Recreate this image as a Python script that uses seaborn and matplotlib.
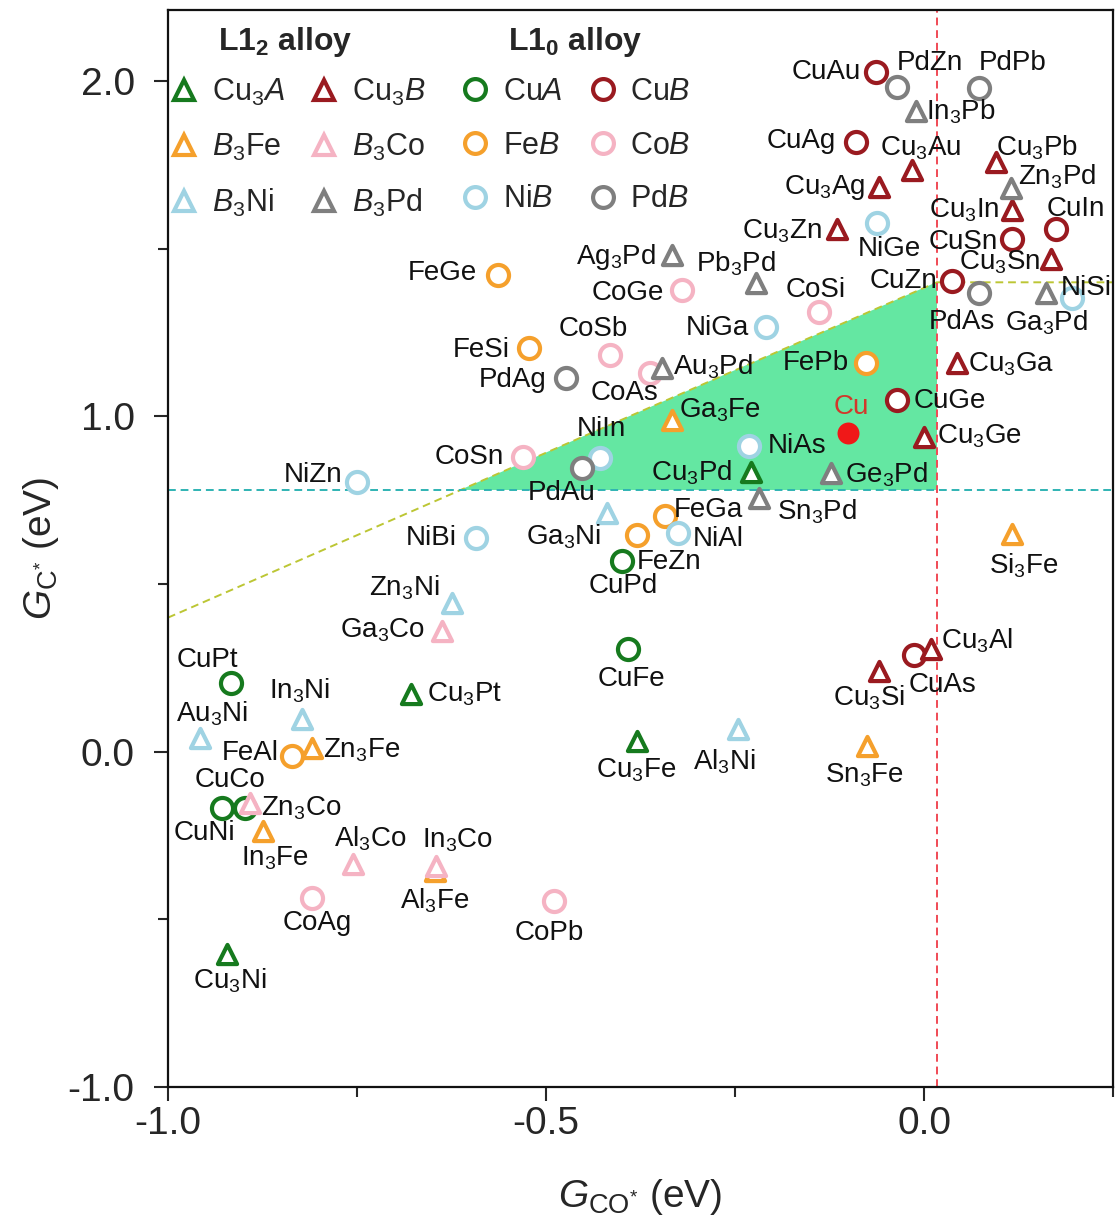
import re

import matplotlib

matplotlib.use("Agg")

import matplotlib.pyplot as plt
import numpy as np
import pandas as pd
import seaborn as sns
from matplotlib.lines import Line2D
from matplotlib.ticker import FormatStrFormatter, MultipleLocator

# ---- data ---------------------------------------------------------------
NAMES = [
    "Cu3Pd", "Cu3Pt", "Cu3Fe", "Cu3Ni",
    "Cu3Au", "Cu3Pb", "Cu3Ag", "Cu3In", "Cu3Zn", "Cu3Sn", "Cu3Ga", "Cu3Ge", "Cu3Si", "Cu3Al",
    "Ga3Fe", "Zn3Fe", "In3Fe", "Al3Fe", "Sn3Fe", "Si3Fe",
    "Ga3Co", "Zn3Co", "Al3Co", "In3Co",
    "Ga3Ni", "Zn3Ni", "In3Ni", "Au3Ni", "Al3Ni",
    "In3Pb", "Zn3Pd", "Ag3Pd", "Pb3Pd", "Ga3Pd", "Au3Pd", "Ge3Pd", "Sn3Pd",
    "CuPd", "CuPt", "CuFe", "CuCo", "CuNi",
    "CuAu", "CuAg", "CuIn", "CuSn", "CuZn", "CuGe", "CuAs",
    "FeGe", "FeSi", "FePb", "FeGa", "FeZn", "FeAl",
    "CoGe", "CoSi", "CoSb", "CoAs", "CoSn", "CoAg", "CoPb",
    "NiGe", "NiGa", "NiAs", "NiIn", "NiZn", "NiAl", "NiBi", "NiSi",
    "PdZn", "PdPb", "PdAs", "PdAg", "PdAu",
]
G_CO = [
    -0.229, -0.678, -0.379, -0.922,
    -0.016, 0.095, -0.059, 0.116, -0.115, 0.168, 0.044, 0.000, -0.059, 0.009,
    -0.334, -0.810, -0.874, -0.647, -0.075, 0.116,
    -0.637, -0.892, -0.755, -0.645,
    -0.419, -0.624, -0.823, -0.958, -0.246,
    -0.011, 0.115, -0.333, -0.222, 0.162, -0.347, -0.123, -0.218,
    -0.400, -0.917, -0.392, -0.929, -0.898,
    -0.063, -0.090, 0.174, 0.116, 0.037, -0.036, -0.013,
    -0.563, -0.522, -0.077, -0.343, -0.379, -0.836,
    -0.320, -0.139, -0.416, -0.363, -0.531, -0.810, -0.489,
    -0.062, -0.209, -0.231, -0.429, -0.750, -0.326, -0.592, 0.196,
    -0.036, 0.073, 0.073, -0.473, -0.453,
]
G_C = [
    0.833, 0.173, 0.033, -0.603,
    1.734, 1.758, 1.684, 1.615, 1.558, 1.470, 1.158, 0.940, 0.242, 0.307,
    0.988, 0.012, -0.236, -0.355, 0.018, 0.650,
    0.361, -0.152, -0.334, -0.340,
    0.713, 0.445, 0.099, 0.042, 0.069,
    1.910, 1.681, 1.481, 1.399, 1.367, 1.143, 0.830, 0.758,
    0.570, 0.206, 0.307, -0.167, -0.167,
    2.027, 1.818, 1.558, 1.528, 1.405, 1.048, 0.287,
    1.421, 1.203, 1.158, 0.704, 0.645, -0.012,
    1.376, 1.310, 1.182, 1.131, 0.878, -0.436, -0.445,
    1.576, 1.266, 0.913, 0.875, 0.803, 0.651, 0.636, 1.352,
    1.982, 1.979, 1.367, 1.116, 0.845,
]
GROUP = (
    ["Cu3A"] * 4 + ["Cu3B"] * 10 + ["B3Fe"] * 6 + ["B3Co"] * 4 + ["B3Ni"] * 5
    + ["B3Pd"] * 8 + ["CuA"] * 5 + ["CuB"] * 7 + ["FeB"] * 6 + ["CoB"] * 7
    + ["NiB"] * 8 + ["PdB"] * 5
)

CU_G_CO = -0.100
CU_G_C = 0.950

# limiting lines of the activity window
GC_LIMIT = 0.78
GCO_LIMIT = 0.017
BOUND_X = [-1.0, 0.017, 0.25]
BOUND_Y = [0.40, 1.40, 1.40]

# ---- styles --------------------------------------------------------------
GREEN = "#167a1e"
DARKRED = "#9a1a20"
ORANGE = "#f5a02c"
PINK = "#f5b3c3"
LIGHTBLUE = "#9fd3e3"
GRAY = "#7f7f7f"

COLORS = {
    "Cu3A": GREEN, "Cu3B": DARKRED, "B3Fe": ORANGE, "B3Co": PINK, "B3Ni": LIGHTBLUE, "B3Pd": GRAY,
    "CuA": GREEN, "CuB": DARKRED, "FeB": ORANGE, "CoB": PINK, "NiB": LIGHTBLUE, "PdB": GRAY,
}
L12_GROUPS = ["Cu3A", "Cu3B", "B3Fe", "B3Co", "B3Ni", "B3Pd"]
L10_GROUPS = ["CuA", "CuB", "FeB", "CoB", "NiB", "PdB"]
LEGEND_LABELS = {
    "Cu3A": r"Cu$_3\mathit{A}$", "Cu3B": r"Cu$_3\mathit{B}$",
    "B3Fe": r"$\mathit{B}_3$Fe", "B3Co": r"$\mathit{B}_3$Co",
    "B3Ni": r"$\mathit{B}_3$Ni", "B3Pd": r"$\mathit{B}_3$Pd",
    "CuA": r"Cu$\mathit{A}$", "CuB": r"Cu$\mathit{B}$",
    "FeB": r"Fe$\mathit{B}$", "CoB": r"Co$\mathit{B}$",
    "NiB": r"Ni$\mathit{B}$", "PdB": r"Pd$\mathit{B}$",
}

# label offset from its marker, in pixels (x right, y up)
LABEL_OFFSET = {
    "CuAu": (-50, 0), "PdZn": (33, 24), "PdPb": (33, 25), "In3Pb": (45, 0),
    "CuAg": (-55, 1), "Cu3Au": (9, 22), "Cu3Pb": (41, 15), "Cu3Ag": (-55, 0),
    "Zn3Pd": (46, 11), "Cu3In": (-47, 0), "CuIn": (20, 20), "Cu3Zn": (-55, -2),
    "NiGe": (12, -26), "CuSn": (-48, -3), "Cu3Sn": (-51, -3), "CuZn": (-48, 0),
    "PdAs": (-17, -29), "Ga3Pd": (0, -29), "NiSi": (14, 10), "Cu3Ga": (54, -1),
    "CuGe": (53, -1), "Cu3Ge": (55, 0), "FePb": (-50, 0), "CoSi": (-3, 22),
    "FeGe": (-56, 2), "Ag3Pd": (-56, -2), "Pb3Pd": (-20, 19), "CoGe": (-54, -3),
    "NiGa": (-49, -1), "CoSb": (-16, 26), "FeSi": (-48, -2), "PdAg": (-54, -2),
    "CoAs": (-25, -20), "Au3Pd": (51, 2), "Ga3Fe": (48, 10), "NiIn": (2, 29),
    "CoSn": (-53, 0), "NiZn": (-44, 7), "PdAu": (-20, -25), "Cu3Pd": (-59, 0),
    "FeGa": (44, 6), "Ga3Ni": (-44, -24), "NiAl": (41, -6), "FeZn": (32, -27),
    "CuPd": (2, -25), "NiBi": (-45, 0), "Zn3Ni": (-48, 15), "Ga3Co": (-60, 0),
    "CuPt": (-23, 23), "In3Ni": (-2, 28), "Cu3Pt": (53, -1), "Au3Ni": (12, 24),
    "FeAl": (-42, 3), "Zn3Fe": (50, -3), "CuCo": (8, 28), "Zn3Co": (52, -6),
    "CuNi": (-41, -25), "In3Fe": (12, -27), "Al3Co": (17, 25), "In3Co": (21, 25),
    "Al3Fe": (0, -30), "CoAg": (6, -25), "CoPb": (-5, -32), "Cu3Ni": (3, -27),
    "CuFe": (4, -30), "Cu3Fe": (-1, -30), "Al3Ni": (-14, -33), "Sn3Fe": (-3, -30),
    "Cu3Si": (-10, -27), "CuAs": (28, -30), "Cu3Al": (46, 8), "NiAs": (48, 0),
    "Ge3Pd": (55, -1), "Sn3Pd": (58, -14), "Si3Fe": (12, -32),
}

sns.set_style("ticks")
plt.rcParams["font.family"] = ["Liberation Sans", "DejaVu Sans"]
plt.rcParams["mathtext.fontset"] = "custom"
plt.rcParams["mathtext.rm"] = "Liberation Sans"
plt.rcParams["mathtext.it"] = "Liberation Sans:italic"
plt.rcParams["mathtext.bf"] = "Liberation Sans:bold"
plt.rcParams["axes.unicode_minus"] = False

df = pd.DataFrame({"name": NAMES, "g_co": G_CO, "g_c": G_C, "group": GROUP})

fig = plt.figure(figsize=(11.15, 12.24), dpi=100)
ax = fig.add_axes([0.1507, 0.1119, 0.8475, 0.8799])

# shaded window and guide lines
x_cross = np.interp(GC_LIMIT, BOUND_Y[:2], BOUND_X[:2])
ax.fill(
    [x_cross, GCO_LIMIT, GCO_LIMIT],
    [GC_LIMIT, GC_LIMIT, BOUND_Y[1]],
    color="#64e7a2",
    lw=0,
    zorder=1,
)
ax.plot(BOUND_X, BOUND_Y, color="#bcc634", lw=1.4, ls=(0, (4, 2.5)), zorder=2)
ax.axhline(GC_LIMIT, color="#2fb3b3", lw=1.4, ls=(0, (4, 2.5)), zorder=2)
ax.axvline(GCO_LIMIT, color="#f04a55", lw=1.4, ls=(0, (4, 2.5)), zorder=2)

# circles first, triangles on top
for group in L10_GROUPS + L12_GROUPS:
    sub = df[df["group"] == group]
    is_l12 = group in L12_GROUPS
    sns.scatterplot(
        data=sub,
        x="g_co",
        y="g_c",
        marker="^" if is_l12 else "o",
        s=190 if is_l12 else 230,
        color=COLORS[group],
        facecolor="white",
        edgecolor=COLORS[group],
        linewidth=3.0,
        legend=False,
        zorder=4,
        ax=ax,
    )

sns.scatterplot(
    x=[CU_G_CO], y=[CU_G_C], color="#f01818", s=250, linewidth=0, legend=False, zorder=4, ax=ax
)
ax.annotate(
    "Cu", (CU_G_CO, CU_G_C), xytext=(3, 26), textcoords="offset pixels",
    ha="center", va="center", fontsize=20, color="#d2372b", zorder=5,
)

for name, x, y in zip(NAMES, G_CO, G_C):
    label = re.sub(r"(\d)", r"$_\1$", name)
    ax.annotate(
        label, (x, y), xytext=LABEL_OFFSET[name], textcoords="offset pixels",
        ha="center", va="center", fontsize=20, color="#111111", zorder=5,
    )


def legend_handle(group):
    return Line2D(
        [], [], linestyle="none",
        marker="^" if group in L12_GROUPS else "o",
        markersize=14 if group in L12_GROUPS else 15,
        markerfacecolor="white",
        markeredgecolor=COLORS[group],
        markeredgewidth=3.0,
    )


legend_common = dict(
    loc="upper left", ncol=2, frameon=False, fontsize=22, handlelength=0.8,
    handletextpad=0.5, labelspacing=0.78, borderpad=0, borderaxespad=0,
)
order1 = ["Cu3A", "B3Fe", "B3Ni", "Cu3B", "B3Co", "B3Pd"]
order2 = ["CuA", "FeB", "NiB", "CuB", "CoB", "PdB"]
leg1 = ax.legend(
    [legend_handle(g) for g in order1], [LEGEND_LABELS[g] for g in order1],
    bbox_to_anchor=(0.004, 0.938), columnspacing=0.91, **legend_common,
)
ax.add_artist(leg1)
ax.legend(
    [legend_handle(g) for g in order2], [LEGEND_LABELS[g] for g in order2],
    bbox_to_anchor=(0.312, 0.938), columnspacing=0.92, **legend_common,
)
ax.text(0.053, 0.970, r"L1$_\mathbf{2}$ alloy", transform=ax.transAxes,
        fontsize=23, fontweight="bold", ha="left", va="center")
ax.text(0.36, 0.970, r"L1$_\mathbf{0}$ alloy", transform=ax.transAxes,
        fontsize=23, fontweight="bold", ha="left", va="center")

# axes
ax.set_xlim(-1.0, 0.25)
ax.set_ylim(-1.0, 2.212)
ax.xaxis.set_major_locator(MultipleLocator(0.5))
ax.xaxis.set_minor_locator(MultipleLocator(0.25))
ax.yaxis.set_major_locator(MultipleLocator(1.0))
ax.yaxis.set_minor_locator(MultipleLocator(0.5))
ax.xaxis.set_major_formatter(FormatStrFormatter("%.1f"))
ax.yaxis.set_major_formatter(FormatStrFormatter("%.1f"))
ax.tick_params(which="major", length=10, width=1.5, labelsize=28, direction="out")
ax.tick_params(which="minor", length=7, width=1.5, direction="out")
ax.tick_params(axis="x", which="major", pad=4)
ax.tick_params(axis="y", which="major", pad=14)
for spine in ax.spines.values():
    spine.set_linewidth(1.6)
    spine.set_color("#111111")

ax.set_xlabel(r"$G_{\mathrm{CO}^{*}}$ (eV)", fontsize=28, labelpad=25)
ax.set_ylabel(r"$G_{\mathrm{C}^{*}}$ (eV)", fontsize=28, labelpad=5)

fig.savefig("out.png", dpi=100)
